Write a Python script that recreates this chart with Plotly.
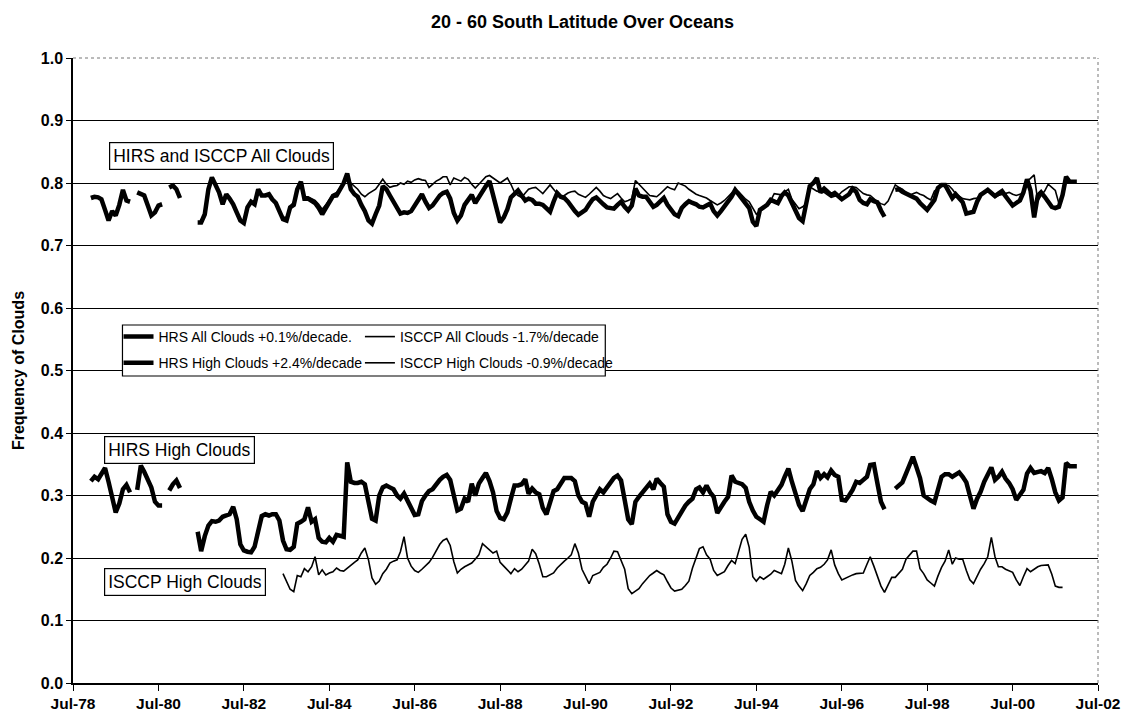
import pandas as pd
import plotly.graph_objects as go

# ---------------- data (monthly) ----------------
# HIRS series start Dec-1978, end Jan-2002 (None = missing month)
hrs_start = "1978-12-01"
hrs_high = [
    0.323,
    0.330, 0.326, 0.335, 0.344, 0.322, 0.300, 0.273, 0.287, 0.310, 0.317, 0.305, None,
    0.309, 0.348, 0.338, 0.326, 0.313, 0.290, 0.284, 0.284, None, 0.308, 0.318, 0.324,
    0.312, None, None, None, None, 0.242, 0.211, 0.235, 0.252, 0.259, 0.258, 0.260,
    0.266, 0.268, 0.270, 0.282, 0.262, 0.222, 0.212, 0.210, 0.209, 0.218, 0.245, 0.267,
    0.270, 0.268, 0.270, 0.270, 0.260, 0.228, 0.214, 0.213, 0.218, 0.255, 0.258, 0.262,
    0.281, 0.258, 0.262, 0.232, 0.226, 0.225, 0.232, 0.226, 0.237, 0.236, 0.234, 0.353,
    0.322, 0.320, 0.320, 0.322, 0.318, 0.290, 0.263, 0.260, 0.300, 0.313, 0.316, 0.313,
    0.310, 0.300, 0.295, 0.303, 0.292, 0.280, 0.269, 0.270, 0.291, 0.300, 0.307, 0.310,
    0.318, 0.325, 0.330, 0.333, 0.325, 0.300, 0.276, 0.279, 0.295, 0.290, 0.319, 0.300,
    0.319, 0.328, 0.336, 0.323, 0.305, 0.275, 0.264, 0.262, 0.273, 0.295, 0.316, 0.316,
    0.318, 0.326, 0.303, 0.311, 0.305, 0.302, 0.280, 0.270, 0.290, 0.307, 0.310, 0.318,
    0.328, 0.328, 0.328, 0.323, 0.300, 0.290, 0.287, 0.266, 0.290, 0.300, 0.310, 0.305,
    0.313, 0.321, 0.328, 0.332, 0.324, 0.293, 0.262, 0.254, 0.290, 0.298, 0.305, 0.314,
    0.319, 0.310, 0.327, 0.320, 0.314, 0.270, 0.258, 0.255, 0.265, 0.275, 0.284, 0.290,
    0.295, 0.310, 0.313, 0.305, 0.316, 0.305, 0.298, 0.272, 0.282, 0.290, 0.298, 0.332,
    0.322, 0.320, 0.318, 0.312, 0.290, 0.276, 0.266, 0.262, 0.258, 0.284, 0.306, 0.300,
    0.310, 0.317, 0.330, 0.343, 0.322, 0.300, 0.285, 0.275, 0.294, 0.310, 0.318, 0.339,
    0.328, 0.334, 0.329, 0.340, 0.333, 0.330, 0.293, 0.292, 0.300, 0.309, 0.322, 0.320,
    0.325, 0.330, 0.349, 0.350, 0.320, 0.290, 0.278, None, None, 0.311, 0.316, 0.321,
    0.335, 0.350, 0.362, 0.345, 0.328, 0.300, 0.295, 0.292, 0.289, 0.313, 0.330, 0.334,
    0.334, 0.330, 0.334, 0.337, 0.330, 0.321, 0.300, 0.279, 0.295, 0.306, 0.322, 0.335,
    0.345, 0.325, 0.330, 0.338, 0.327, 0.320, 0.310, 0.293, 0.300, 0.309, 0.335, 0.344,
    0.336, 0.338, 0.339, 0.336, 0.344, 0.326, 0.305, 0.292, 0.297, 0.352, 0.347, 0.347,
    0.347,
]
hrs_all = [
    0.776,
    0.778, 0.777, 0.774, 0.757, 0.740, 0.755, 0.748, 0.765, 0.789, 0.772, 0.770, None,
    0.785, 0.782, 0.780, 0.764, 0.748, 0.753, 0.764, 0.766, None, 0.793, 0.796, 0.790,
    0.776, None, None, None, None, 0.737, 0.737, 0.750, 0.790, 0.809, 0.795, 0.785,
    0.766, 0.782, 0.775, 0.766, 0.753, 0.740, 0.736, 0.761, 0.770, 0.766, 0.790, 0.780,
    0.780, 0.782, 0.774, 0.768, 0.755, 0.742, 0.740, 0.761, 0.765, 0.790, 0.802, 0.775,
    0.775, 0.772, 0.768, 0.760, 0.750, 0.760, 0.771, 0.779, 0.780, 0.790, 0.800, 0.815,
    0.790, 0.782, 0.778, 0.765, 0.755, 0.740, 0.735, 0.750, 0.764, 0.795, 0.790, 0.780,
    0.770, 0.759, 0.751, 0.753, 0.752, 0.755, 0.765, 0.772, 0.782, 0.770, 0.760, 0.764,
    0.772, 0.780, 0.784, 0.786, 0.775, 0.752, 0.740, 0.748, 0.765, 0.773, 0.781, 0.768,
    0.778, 0.787, 0.795, 0.803, 0.780, 0.755, 0.737, 0.745, 0.758, 0.777, 0.782, 0.788,
    0.780, 0.772, 0.775, 0.773, 0.767, 0.767, 0.765, 0.760, 0.754, 0.770, 0.784, 0.778,
    0.776, 0.770, 0.762, 0.755, 0.749, 0.753, 0.757, 0.766, 0.774, 0.777, 0.770, 0.766,
    0.761, 0.760, 0.759, 0.765, 0.770, 0.762, 0.756, 0.764, 0.791, 0.780, 0.778, 0.778,
    0.770, 0.762, 0.765, 0.770, 0.776, 0.765, 0.757, 0.750, 0.747, 0.760, 0.766, 0.771,
    0.768, 0.766, 0.762, 0.761, 0.764, 0.767, 0.755, 0.748, 0.755, 0.762, 0.770, 0.778,
    0.789, 0.781, 0.775, 0.768, 0.760, 0.738, 0.731, 0.757, 0.762, 0.765, 0.773, 0.770,
    0.768, 0.779, 0.785, 0.780, 0.768, 0.754, 0.744, 0.739, 0.768, 0.795, 0.800, 0.808,
    0.785, 0.791, 0.786, 0.781, 0.784, 0.778, 0.774, 0.778, 0.782, 0.791, 0.786, 0.773,
    0.768, 0.766, 0.774, 0.771, 0.769, 0.756, 0.746, None, None, 0.789, 0.790, 0.786,
    0.783, 0.780, 0.778, 0.775, 0.768, 0.762, 0.757, 0.765, 0.773, 0.792, 0.797, 0.797,
    0.787, 0.776, 0.782, 0.775, 0.769, 0.751, 0.752, 0.754, 0.770, 0.781, 0.785, 0.789,
    0.784, 0.779, 0.783, 0.787, 0.779, 0.772, 0.764, 0.768, 0.772, 0.785, 0.806, 0.788,
    0.745, 0.780, 0.785, 0.778, 0.770, 0.762, 0.760, 0.762, 0.781, 0.810, 0.802, 0.802,
    0.802,
]

# ISCCP series start Jun-1983, end Sep-2001
isccp_start = "1983-06-01"
isccp_high = [
    0.175, 0.162, 0.150, 0.146, 0.172, 0.170, 0.183,
    0.178, 0.186, 0.202, 0.173, 0.181, 0.173, 0.176, 0.178, 0.184, 0.180, 0.179, 0.184,
    0.189, 0.193, 0.197, 0.208, 0.216, 0.197, 0.168, 0.158, 0.163, 0.175, 0.182, 0.192,
    0.195, 0.197, 0.210, 0.234, 0.200, 0.187, 0.180, 0.177, 0.182, 0.187, 0.193, 0.201,
    0.212, 0.222, 0.228, 0.231, 0.220, 0.194, 0.176, 0.182, 0.186, 0.189, 0.192, 0.198,
    0.205, 0.223, 0.218, 0.213, 0.208, 0.211, 0.193, 0.187, 0.180, 0.175, 0.183, 0.178,
    0.182, 0.188, 0.195, 0.214, 0.207, 0.190, 0.170, 0.170, 0.173, 0.176, 0.184, 0.190,
    0.195, 0.200, 0.205, 0.223, 0.208, 0.182, 0.170, 0.159, 0.172, 0.175, 0.177, 0.185,
    0.190, 0.200, 0.211, 0.210, 0.195, 0.182, 0.151, 0.143, 0.147, 0.151, 0.159, 0.165,
    0.172, 0.176, 0.180, 0.176, 0.173, 0.162, 0.152, 0.147, 0.148, 0.150, 0.156, 0.163,
    0.184, 0.200, 0.215, 0.218, 0.205, 0.198, 0.180, 0.172, 0.175, 0.178, 0.188, 0.196,
    0.191, 0.210, 0.230, 0.238, 0.217, 0.170, 0.163, 0.170, 0.166, 0.170, 0.174, 0.180,
    0.178, 0.175, 0.190, 0.216, 0.195, 0.164, 0.155, 0.148, 0.159, 0.172, 0.177, 0.183,
    0.185, 0.190, 0.197, 0.213, 0.189, 0.175, 0.165, 0.168, 0.170, 0.173, 0.175, 0.176,
    0.176, 0.190, 0.202, 0.187, 0.170, 0.155, 0.145, 0.158, 0.169, 0.169, 0.176, 0.182,
    0.198, 0.205, 0.211, 0.211, 0.183, 0.175, 0.165, 0.160, 0.155, 0.171, 0.185, 0.195,
    0.213, 0.190, 0.200, 0.198, 0.198, 0.180, 0.165, 0.159, 0.172, 0.182, 0.191, 0.202,
    0.233, 0.202, 0.186, 0.186, 0.182, 0.180, 0.177, 0.165, 0.156, 0.170, 0.183, 0.178,
    0.182, 0.186, 0.188, 0.189, 0.189, 0.174, 0.155, 0.153, 0.153,
]
isccp_all = [
    0.745, 0.745, 0.762, 0.770, 0.792, 0.795, 0.778,
    0.778, 0.775, 0.772, 0.766, 0.758, 0.765, 0.774, 0.782, 0.785, 0.792, 0.800, 0.808,
    0.800, 0.795, 0.790, 0.782, 0.778, 0.783, 0.786, 0.790, 0.798, 0.806, 0.798, 0.793,
    0.795, 0.796, 0.800, 0.798, 0.803, 0.801, 0.805, 0.807, 0.805, 0.804, 0.793, 0.798,
    0.803, 0.806, 0.810, 0.810, 0.797, 0.808, 0.805, 0.803, 0.809, 0.806, 0.798, 0.792,
    0.798, 0.805, 0.810, 0.812, 0.808, 0.805, 0.800, 0.804, 0.808, 0.798, 0.785, 0.780,
    0.777, 0.784, 0.790, 0.792, 0.793, 0.788, 0.783, 0.790, 0.797, 0.790, 0.782, 0.776,
    0.780, 0.784, 0.786, 0.787, 0.782, 0.779, 0.777, 0.782, 0.788, 0.793, 0.787, 0.780,
    0.777, 0.775, 0.779, 0.783, 0.776, 0.770, 0.772, 0.775, 0.804, 0.798, 0.793, 0.787,
    0.780, 0.779, 0.778, 0.783, 0.789, 0.794, 0.791, 0.789, 0.800, 0.798, 0.795, 0.790,
    0.786, 0.782, 0.780, 0.778, 0.776, 0.772, 0.768, 0.765, 0.768, 0.772, 0.778, 0.784,
    0.790, 0.786, 0.780, 0.774, 0.770, 0.760, 0.750, 0.755, 0.759, 0.766, 0.772, 0.783,
    0.782, 0.781, 0.786, 0.790, 0.774, 0.766, 0.759, 0.762, 0.767, 0.794, 0.790, 0.787,
    0.786, 0.785, 0.781, 0.777, 0.779, 0.780, 0.786, 0.790, 0.794, 0.794, 0.793, 0.788,
    0.783, 0.781, 0.780, 0.775, 0.770, 0.767, 0.765, 0.771, 0.785, 0.797, 0.793, 0.790,
    0.785, 0.780, 0.783, 0.785, 0.782, 0.780, 0.776, 0.773, 0.787, 0.791, 0.795, 0.796,
    0.796, 0.790, 0.783, 0.779, 0.775, 0.774, 0.773, 0.775, 0.776, 0.781, 0.784, 0.787,
    0.782, 0.777, 0.780, 0.782, 0.784, 0.785, 0.782, 0.780, 0.782, 0.783, 0.802, 0.808,
    0.813, 0.771, 0.780, 0.787, 0.798, 0.793, 0.788, 0.767, 0.775,
]

tick_dates = ["1978-07-01", "1980-07-01", "1982-07-01", "1984-07-01", "1986-07-01",
              "1988-07-01", "1990-07-01", "1992-07-01", "1994-07-01", "1996-07-01",
              "1998-07-01", "2000-07-01", "2002-07-01"]
tick_labels = ["Jul-78", "Jul-80", "Jul-82", "Jul-84", "Jul-86", "Jul-88", "Jul-90",
               "Jul-92", "Jul-94", "Jul-96", "Jul-98", "Jul-00", "Jul-02"]
y_ticks = [0.0, 0.1, 0.2, 0.3, 0.4, 0.5, 0.6, 0.7, 0.8, 0.9, 1.0]
y_labels = ["0.0", "0.1", "0.2", "0.3", "0.4", "0.5", "0.6", "0.7", "0.8", "0.9", "1.0"]

legend_names = {
    "hrs_all": "HRS All Clouds +0.1%/decade.",
    "hrs_high": "HRS High Clouds +2.4%/decade",
    "isccp_all": "ISCCP All Clouds -1.7%/decade",
    "isccp_high": "ISCCP High Clouds -0.9%/decade",
}

# ---------------- figure ----------------
hrs_x = pd.date_range(hrs_start, periods=len(hrs_high), freq="MS")
isccp_x = pd.date_range(isccp_start, periods=len(isccp_high), freq="MS")

FONT = "Liberation Sans, Arial, sans-serif"
W, H = 1132, 726
L, R, T, B = 73, 23, 58, 43
PW = W - L - R
PH = H - T - B

fig = go.Figure()
fig.add_trace(go.Scatter(x=hrs_x, y=hrs_all, mode="lines", name=legend_names["hrs_all"],
                         line=dict(color="black", width=4.5), connectgaps=False,
                         legend="legend", legendgroup="a"))
fig.add_trace(go.Scatter(x=hrs_x, y=hrs_high, mode="lines", name=legend_names["hrs_high"],
                         line=dict(color="black", width=4.5), connectgaps=False,
                         legend="legend", legendgroup="b"))
fig.add_trace(go.Scatter(x=isccp_x, y=isccp_all, mode="lines", name=legend_names["isccp_all"],
                         line=dict(color="black", width=1.6),
                         legend="legend2", legendgroup="c"))
fig.add_trace(go.Scatter(x=isccp_x, y=isccp_high, mode="lines", name=legend_names["isccp_high"],
                         line=dict(color="black", width=1.6),
                         legend="legend2", legendgroup="d"))

def px_x(p):
    return (p - L) / PW

def px_y(p):
    return (T + PH - p) / PH

legend_common = dict(
    yanchor="top", xanchor="left", y=px_y(321),
    font=dict(family=FONT, size=14, color="black"),
    bgcolor="rgba(0,0,0,0)", borderwidth=0,
    traceorder="grouped", tracegroupgap=5, itemwidth=30,
)

fig.update_layout(
    width=W, height=H,
    margin=dict(l=L, r=R, t=T, b=B),
    paper_bgcolor="white", plot_bgcolor="white",
    font=dict(family=FONT, color="black"),
    title=dict(text="<b>20 - 60 South Latitude Over Oceans</b>",
               x=0.497, xref="paper", xanchor="center",
               y=1 - 22 / H, yref="container", yanchor="middle",
               font=dict(family=FONT, size=18, color="black")),
    showlegend=True,
    legend=dict(x=px_x(119), **legend_common),
    legend2=dict(x=px_x(363), **legend_common),
    xaxis=dict(
        type="date", range=["1978-07-01", "2002-07-01"],
        tickvals=tick_dates, ticktext=["<b>%s</b>" % t for t in tick_labels],
        tickfont=dict(family=FONT, size=15.5, color="black"),
        ticklabeloverflow="allow",
        showline=True, linecolor="black", linewidth=1.5,
        ticks="outside", ticklen=6, tickcolor="black", tickwidth=1.3,
        showgrid=False, zeroline=False,
    ),
    yaxis=dict(
        range=[0, 1.0], tickvals=y_ticks, ticktext=["<b>%s</b>" % t for t in y_labels],
        tickfont=dict(family=FONT, size=16, color="black"),
        showline=True, linecolor="black", linewidth=1.5,
        ticks="outside", ticklen=5, tickcolor="black", tickwidth=1.3,
        showgrid=True, gridcolor="black", gridwidth=1.4, zeroline=False,
    ),
)

# plot-area decorations: hide grid at top edge, dotted top/right border, legend box
fig.add_shape(type="line", xref="paper", yref="paper", x0=0.001, x1=1, y0=1, y1=1,
              line=dict(color="white", width=3), layer="above")
fig.add_shape(type="line", xref="paper", yref="paper", x0=0, x1=1, y0=1, y1=1,
              line=dict(color="#777777", width=1, dash="dot"), layer="above")
fig.add_shape(type="line", xref="paper", yref="paper", x0=1, x1=1, y0=0, y1=1,
              line=dict(color="#777777", width=1, dash="dot"), layer="above")
fig.add_shape(type="rect", xref="paper", yref="paper",
              x0=px_x(123), x1=px_x(611), y0=px_y(376), y1=px_y(325),
              line=dict(color="black", width=1.2), fillcolor="white", layer="above")

box_font = dict(family=FONT, size=17.5, color="black")
for text, x, y in [("HIRS and ISCCP All Clouds", 0.145, 0.843),
                   ("HIRS High Clouds", 0.104, 0.373),
                   ("ISCCP High Clouds", 0.109, 0.162)]:
    fig.add_annotation(text=text, xref="paper", yref="paper", x=x, y=y,
                       xanchor="center", yanchor="middle", showarrow=False,
                       font=box_font, bgcolor="white", bordercolor="black",
                       borderwidth=1.2, borderpad=3)

fig.add_annotation(text="<b>Frequency of Clouds</b>", xref="paper", yref="paper",
                   x=px_x(18), y=0.5, xanchor="center", yanchor="middle",
                   textangle=-90, showarrow=False,
                   font=dict(family=FONT, size=16, color="black"))

fig.write_html("out.html")
